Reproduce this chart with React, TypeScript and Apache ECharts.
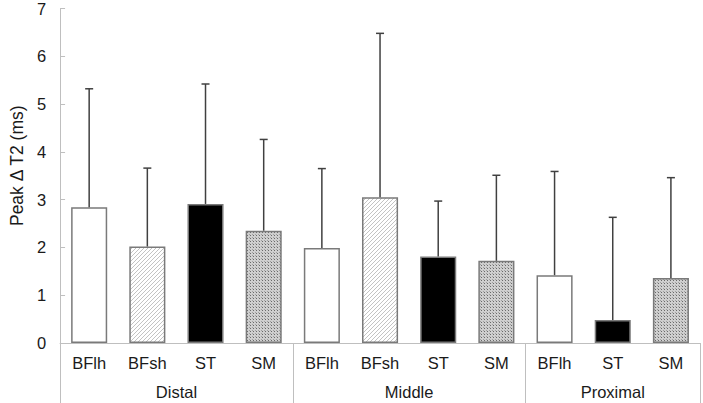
import React, { useEffect, useRef } from "react";
import * as echarts from "echarts";

const regions = ["Distal", "Middle", "Proximal"];
const regionSizes = [4, 4, 3];
const muscles = ["BFlh", "BFsh", "ST", "SM", "BFlh", "BFsh", "ST", "SM", "BFlh", "ST", "SM"];
const means = [2.84, 2.02, 2.91, 2.35, 1.99, 3.05, 1.81, 1.72, 1.42, 0.48, 1.36];
const sds = [2.48, 1.64, 2.51, 1.91, 1.66, 3.43, 1.16, 1.79, 2.17, 2.15, 2.1];
const yTicks = [0, 1, 2, 3, 4, 5, 6, 7];

function makeHatch(): HTMLCanvasElement {
  const c = document.createElement("canvas");
  c.width = 4;
  c.height = 4;
  const ctx = c.getContext("2d")!;
  ctx.fillStyle = "#ffffff";
  ctx.fillRect(0, 0, 4, 4);
  ctx.strokeStyle = "#b4b4b4";
  ctx.lineWidth = 0.8;
  ctx.beginPath();
  ctx.moveTo(-1, 5);
  ctx.lineTo(5, -1);
  ctx.moveTo(-1, 1);
  ctx.lineTo(1, -1);
  ctx.moveTo(3, 5);
  ctx.lineTo(5, 3);
  ctx.stroke();
  return c;
}

function makeDots(): HTMLCanvasElement {
  const c = document.createElement("canvas");
  c.width = 3;
  c.height = 3;
  const ctx = c.getContext("2d")!;
  ctx.fillStyle = "#cfcfcf";
  ctx.fillRect(0, 0, 3, 3);
  ctx.fillStyle = "#6a6a6a";
  ctx.fillRect(1, 1, 1, 1);
  ctx.fillStyle = "#a0a0a0";
  ctx.fillRect(0, 0, 1, 1);
  return c;
}

export default function App() {
  const ref = useRef<HTMLDivElement>(null);

  useEffect(() => {
    if (!ref.current) return;
    const chart = echarts.init(ref.current, undefined, { renderer: "svg" });

    const hatch = { image: makeHatch(), repeat: "repeat" } as any;
    const dots = { image: makeDots(), repeat: "repeat" } as any;
    const fillFor = (m: string): any =>
      m === "BFlh" ? "#ffffff" : m === "BFsh" ? hatch : m === "ST" ? "#000000" : dots;

    const catIds: string[] = [];
    const regionBounds: number[] = [0];
    const regionCenters: number[] = [];
    let k = 0;
    regions.forEach((r, ri) => {
      const start = k;
      for (let j = 0; j < regionSizes[ri]; j++) {
        catIds.push(r + "|" + muscles[k]);
        k++;
      }
      regionBounds.push(k);
      regionCenters.push((start + k) / 2);
    });

    const font = "Liberation Sans";
    const axisGray = "#bfbfbf";
    const textColor = "#1a1a1a";

    chart.setOption({
      animation: false,
      grid: { left: 43, right: 3, top: 7, bottom: 60, containLabel: false },
      xAxis: [
        {
          type: "category",
          data: catIds,
          axisLine: { lineStyle: { color: axisGray, width: 1 } },
          axisTick: { show: false },
          axisLabel: {
            interval: 0,
            formatter: (v: string) => v.split("|")[1],
            fontFamily: font,
            fontSize: 16.5,
            color: textColor,
            margin: 11,
          },
        },
        {
          type: "value",
          min: 0,
          max: 11,
          position: "bottom",
          axisLine: { show: false },
          splitLine: { show: false },
          axisTick: {
            show: true,
            customValues: regionBounds,
            length: 60,
            lineStyle: { color: axisGray, width: 1 },
          },
          axisLabel: {
            customValues: regionCenters,
            formatter: (v: number) => {
              const idx = regionCenters.findIndex((c) => Math.abs(c - v) < 1e-6);
              return idx >= 0 ? regions[idx] : "";
            },
            fontFamily: font,
            fontSize: 16.5,
            color: textColor,
            margin: 40,
          },
        },
      ],
      yAxis: {
        type: "value",
        min: 0,
        max: 7,
        interval: 1,
        name: "Peak Δ T2 (ms)",
        nameLocation: "middle",
        nameGap: 31,
        nameTextStyle: { fontFamily: font, fontSize: 17.5, color: textColor, padding: [0, 0, 0, 20] },
        axisLine: { show: true, lineStyle: { color: axisGray, width: 1 } },
        axisTick: { show: true, inside: true, length: 5, lineStyle: { color: axisGray } },
        axisLabel: {
          fontFamily: font,
          fontSize: 16.5,
          color: textColor,
          margin: 14,
          customValues: yTicks,
        },
        splitLine: { show: false },
      },
      series: [
        {
          type: "bar",
          xAxisIndex: 0,
          barWidth: "62%",
          data: means.map((v, i) => ({
            value: v,
            itemStyle: {
              color: fillFor(muscles[i]),
              borderColor: "#7a7a7a",
              borderWidth: 1.5,
            },
          })),
          z: 2,
        },
        {
          type: "custom",
          xAxisIndex: 0,
          z: 3,
          data: means.map((v, i) => [i, v, sds[i]]),
          encode: { x: 0, y: [1] },
          renderItem: (params: any, api: any) => {
            const x = api.value(0);
            const m = api.value(1);
            const s = api.value(2);
            const top = api.coord([x, m + s]);
            const base = api.coord([x, m]);
            const st = { stroke: "#404040", lineWidth: 1.5 };
            return {
              type: "group",
              children: [
                { type: "line", shape: { x1: top[0], y1: top[1], x2: base[0], y2: base[1] }, style: st },
                { type: "line", shape: { x1: top[0] - 4, y1: top[1], x2: top[0] + 4, y2: top[1] }, style: st },
              ],
            };
          },
        },
      ],
    });

    return () => chart.dispose();
  }, []);

  return (
    <div
      ref={ref}
      style={{ position: "fixed", left: 0, top: 0, width: 703, height: 403, background: "#ffffff" }}
    />
  );
}
